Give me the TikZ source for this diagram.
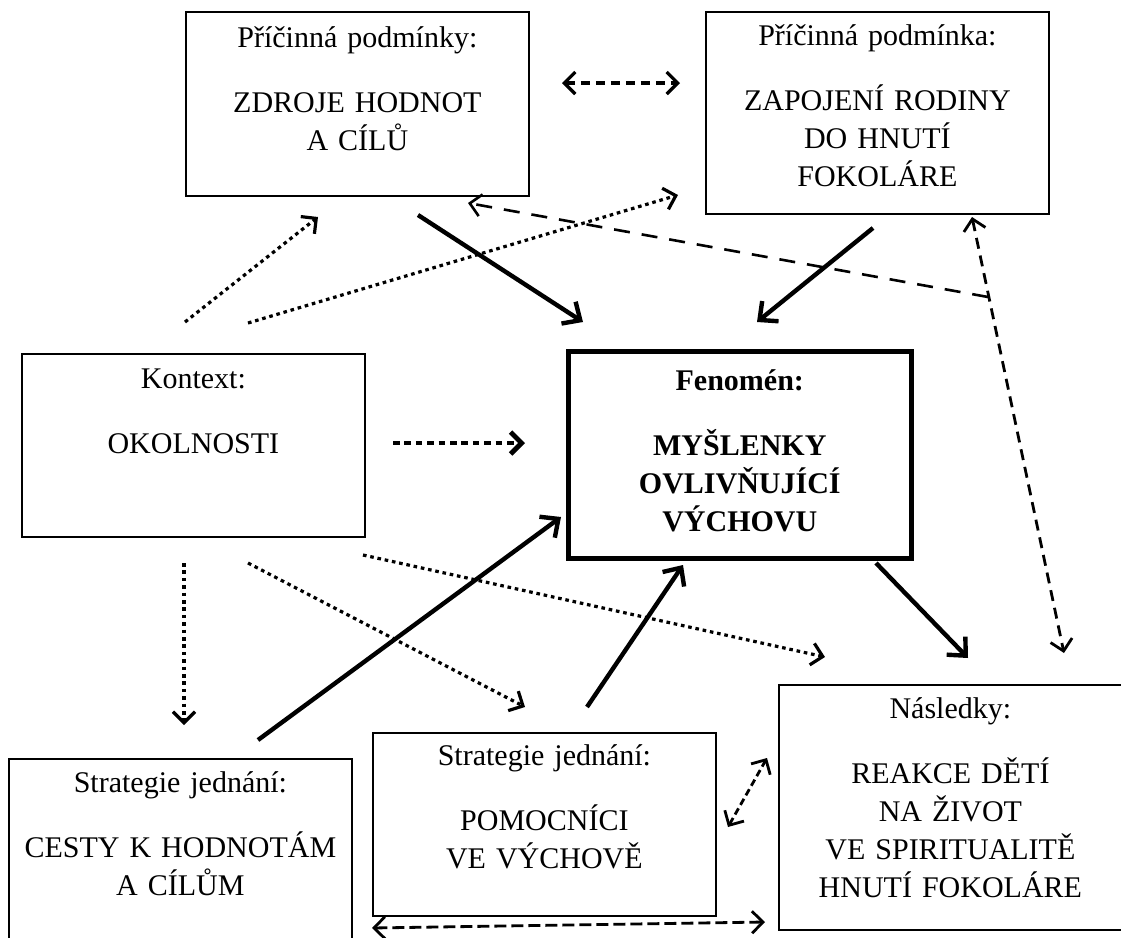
\documentclass[tikz,border=0pt]{standalone}
\usepackage{fontspec}
\setmainfont{Liberation Serif}
\usetikzlibrary{arrows.meta}

% top strut, title, body lines, bottom strut
\newcommand{\boxtext}[4]{\rule{0pt}{#1}#2\\[13.5pt]#3\rule[-#4]{0pt}{#4}}

\tikzset{
  box/.style={draw, line width=0.9pt, anchor=north west, inner sep=0pt,
    text width=171.5pt, align=center, font=\fontsize{15}{19}\selectfont},
  mainbox/.style={box, line width=2.3pt, font=\fontsize{15}{19}\selectfont\bfseries},
  >={Straight Barb[length=5.5pt,width=11pt]},
  solidarrow/.style={line width=2.2pt, -{Straight Barb[length=7pt,width=13pt]}},
  dotarrow/.style={line width=1.6pt, dash pattern=on 1.8pt off 1.9pt, ->},
  bolddot/.style={line width=2.4pt, dash pattern=on 3.3pt off 2.4pt, ->},
  longdash/.style={line width=1.3pt, dash pattern=on 8pt off 6pt},
  shortdash/.style={line width=1.4pt, dash pattern=on 5pt off 3pt},
}

\begin{document}
\begin{tikzpicture}[x=0.5pt, y=-0.5pt]
  \clip (0,0) rectangle (1121,938);

  \node[box] (zdroje) at (185,11)
    {\boxtext{18pt}{Příčinná podmínky:}{ZDROJE HODNOT\\A CÍLŮ}{22.5pt}};
  \node[box] (zapojeni) at (705,11)
    {\boxtext{17pt}{Příčinná podmínka:}{ZAPOJENÍ RODINY\\DO HNUTÍ\\FOKOLÁRE}{13.5pt}};
  \node[box] (kontext) at (21,353)
    {\boxtext{17.5pt}{Kontext:}{OKOLNOSTI}{41.5pt}};
  \node[mainbox] (fenomen) at (566,349)
    {\boxtext{19.5pt}{Fenomén:}{MYŠLENKY\\OVLIVŇUJÍCÍ\\VÝCHOVU}{13.5pt}};
  \node[box] (cesty) at (8,758)
    {\boxtext{17pt}{Strategie jednání:}{CESTY K HODNOTÁM\\A CÍLŮM}{30pt}};
  \node[box] (pomocnici) at (372,732)
    {\boxtext{16.5pt}{Strategie jednání:}{POMOCNÍCI\\VE VÝCHOVĚ}{23.5pt}};
  \node[box] (nasledky) at (778,684)
    {\boxtext{17pt}{Následky:}{REAKCE DĚTÍ\\NA ŽIVOT\\VE SPIRITUALITĚ\\HNUTÍ FOKOLÁRE}{16pt}};

  % free ends of the connectors
  \coordinate (zdrojeOut) at (418,215);
  \coordinate (fenTopL) at (583,322);
  \coordinate (zapojeniOut) at (873,228);
  \coordinate (fenTopR) at (757,322);
  \coordinate (cestyOut) at (258,740);
  \coordinate (fenLeft) at (561,517);
  \coordinate (pomocOut) at (587,707);
  \coordinate (fenBottom) at (683,565);
  \coordinate (fenOut) at (876,563);
  \coordinate (nasTop) at (968,658);

  \coordinate (ctxUpL) at (185,322);
  \coordinate (zdrojeIn) at (318,217);
  \coordinate (ctxUpR) at (248,323);
  \coordinate (zapojeniIn) at (678,195);
  \coordinate (ctxRight) at (393,443);
  \coordinate (fenIn) at (525,443);
  \coordinate (ctxDown) at (184,563);
  \coordinate (cestyIn) at (184,725);
  \coordinate (ctxDownR) at (248,563);
  \coordinate (pomocIn) at (525,707);
  \coordinate (ctxFar) at (363,555);
  \coordinate (nasIn) at (825,657);

  \coordinate (topL) at (562,83);
  \coordinate (topR) at (680,83);
  \coordinate (backStart) at (988,297);
  \coordinate (zdrojeBack) at (468,203);
  \coordinate (zapojeniLow) at (972,217);
  \coordinate (nasHigh) at (1064,653);
  \coordinate (pomocSide) at (728,827);
  \coordinate (nasSide) at (767,758);
  \coordinate (cestyLow) at (372,928);
  \coordinate (nasLow) at (765,922);

  % causal links
  \draw[solidarrow] (zdrojeOut) -- (fenTopL);
  \draw[solidarrow] (zapojeniOut) -- (fenTopR);
  \draw[solidarrow] (cestyOut) -- (fenLeft);
  \draw[solidarrow] (pomocOut) -- (fenBottom);
  \draw[solidarrow] (fenOut) -- (nasTop);

  % context influences
  \draw[dotarrow] (ctxUpL) -- (zdrojeIn);
  \draw[dotarrow] (ctxUpR) -- (zapojeniIn);
  \draw[bolddot] (ctxRight) -- (fenIn);
  \draw[dotarrow] (ctxDown) -- (cestyIn);
  \draw[dotarrow] (ctxDownR) -- (pomocIn);
  \draw[dotarrow] (ctxFar) -- (nasIn);

  % mutual links
  \draw[shortdash, line width=1.6pt, dash pattern=on 4.5pt off 3pt, <->] (topL) -- (topR);
  \draw[longdash, ->] (backStart) -- (zdrojeBack);
  \draw[shortdash, dash pattern=on 5.5pt off 3.5pt, <->] (zapojeniLow) -- (nasHigh);
  \draw[shortdash, dash pattern=on 3.5pt off 2pt, <->] (pomocSide) -- (nasSide);
  \draw[shortdash, dash pattern=on 6pt off 2.5pt, <->] (cestyLow) -- (nasLow);
\end{tikzpicture}
\end{document}
